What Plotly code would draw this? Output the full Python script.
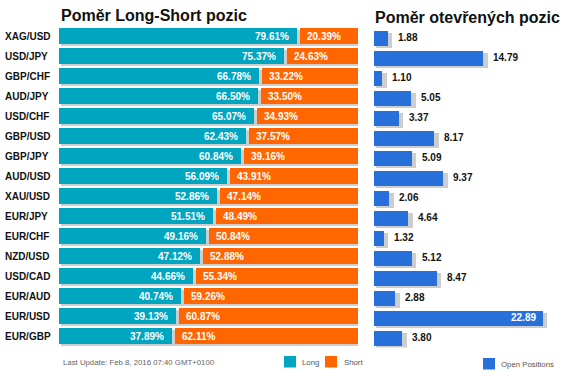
import plotly.graph_objects as go

pairs = ["XAG/USD", "USD/JPY", "GBP/CHF", "AUD/JPY", "USD/CHF", "GBP/USD", "GBP/JPY", "AUD/USD",
         "XAU/USD", "EUR/JPY", "EUR/CHF", "NZD/USD", "USD/CAD", "EUR/AUD", "EUR/USD", "EUR/GBP"]
long_pct = [79.61, 75.37, 66.78, 66.50, 65.07, 62.43, 60.84, 56.09, 52.86, 51.51, 49.16, 47.12,
            44.66, 40.74, 39.13, 37.89]
short_pct = [20.39, 24.63, 33.22, 33.50, 34.93, 37.57, 39.16, 43.91, 47.14, 48.49, 50.84, 52.88,
             55.34, 59.26, 60.87, 62.11]
open_pos = [1.88, 14.79, 1.10, 5.05, 3.37, 8.17, 5.09, 9.37, 2.06, 4.64, 1.32, 5.12, 8.47, 2.88,
            22.89, 3.80]

title_left = "Poměr Long-Short pozic"
title_right = "Poměr otevřených pozic"
footer = "Last Update: Feb 8, 2016 07:40 GMT+0100"

W, H = 563, 377
TEAL = "#00A6BF"
ORANGE = "#FF6600"
BLUE = "#2870D9"
SHADOW = "#CDCDCD"
FONT = "Arial, Liberation Sans, sans-serif"

idx = list(range(len(pairs)))
GAP = 1.0            # white gap between long and short (data units, left axis)
R2 = 24.66           # right axis range

def py(px):
    return (H - px) / H

def px_x(px):
    return px / W

fig = go.Figure()

# left chart shadows
totals = [l + s for l, s in zip(long_pct, short_pct)]
fig.add_trace(go.Bar(y=[i + 0.1 for i in idx], x=totals, base=0.67, width=0.8, orientation="h",
                     marker=dict(color=SHADOW, line=dict(width=0)), xaxis="x", yaxis="y",
                     hoverinfo="skip", showlegend=False))
fig.add_trace(go.Bar(y=idx, x=long_pct, base=0, width=0.8, orientation="h", name="Long",
                     marker=dict(color=TEAL, line=dict(width=0)), xaxis="x", yaxis="y",
                     hoverinfo="skip", showlegend=False))
fig.add_trace(go.Bar(y=idx, x=[s - GAP for s in short_pct], base=[l + GAP for l in long_pct],
                     width=0.8, orientation="h", name="Short",
                     marker=dict(color=ORANGE, line=dict(width=0)), xaxis="x", yaxis="y",
                     hoverinfo="skip", showlegend=False))

# right chart
fig.add_trace(go.Bar(y=[i + 0.1 for i in idx], x=[v + 0.34 for v in open_pos], base=0.27, width=0.75,
                     orientation="h", marker=dict(color=SHADOW, line=dict(width=0)),
                     xaxis="x2", yaxis="y2", hoverinfo="skip", showlegend=False))
fig.add_trace(go.Bar(y=idx, x=open_pos, base=0, width=0.75, orientation="h", name="Open Positions",
                     marker=dict(color=BLUE, line=dict(width=0)), xaxis="x2", yaxis="y2",
                     hoverinfo="skip", showlegend=False))

ann = []
for i, name in enumerate(pairs):
    ann.append(dict(x=px_x(3), xref="paper", y=i, yref="y", text=name, showarrow=False,
                    xanchor="left", yanchor="middle",
                    font=dict(family=FONT, size=10, color="#111111", weight="bold")))
for i, (l, s) in enumerate(zip(long_pct, short_pct)):
    ann.append(dict(x=l, xref="x", y=i, yref="y", text=f"{l:.2f}%", showarrow=False,
                    xanchor="right", yanchor="middle", xshift=-6,
                    font=dict(family=FONT, size=10, color="white", weight="bold")))
    ann.append(dict(x=l + GAP, xref="x", y=i, yref="y", text=f"{s:.2f}%", showarrow=False,
                    xanchor="left", yanchor="middle", xshift=5,
                    font=dict(family=FONT, size=10, color="white", weight="bold")))
for i, v in enumerate(open_pos):
    inside = v > 0.8 * R2
    ann.append(dict(x=v, xref="x2", y=i, yref="y2", text=f"{v:.2f}", showarrow=False,
                    xanchor="right" if inside else "left", yanchor="middle",
                    xshift=-5 if inside else 8,
                    font=dict(family=FONT, size=10, color="white" if inside else "#111111",
                              weight="bold")))

ann.append(dict(x=px_x(59), xref="paper", y=py(15), yref="paper", text=title_left, showarrow=False,
                xanchor="left", yanchor="middle",
                font=dict(family=FONT, size=16, color="#111111", weight="bold")))
ann.append(dict(x=px_x(373), xref="paper", y=py(18), yref="paper", text=title_right, showarrow=False,
                xanchor="left", yanchor="middle",
                font=dict(family=FONT, size=16, color="#111111", weight="bold")))
ann.append(dict(x=px_x(61), xref="paper", y=py(362), yref="paper", text=footer, showarrow=False,
                xanchor="left", yanchor="middle", font=dict(family=FONT, size=7.8, color="#666666")))

legend_items = [("Long", TEAL, 284, 356, 300), ("Short", ORANGE, 325, 356, 341.5),
                ("Open Positions", BLUE, 483, 358, 499)]
shapes = []
for label, col, x0, y0, tx in legend_items:
    shapes.append(dict(type="rect", xref="paper", yref="paper", x0=px_x(x0), x1=px_x(x0 + 12),
                       y0=py(y0), y1=py(y0 + 11.5), fillcolor=col, line=dict(width=0)))
    ann.append(dict(x=px_x(tx), xref="paper", y=py(y0 + 6), yref="paper", text=label,
                    showarrow=False, xanchor="left", yanchor="middle",
                    font=dict(family=FONT, size=7.8, color="#555555")))

fig.update_layout(
    width=W, height=H, margin=dict(l=0, r=0, t=0, b=0),
    paper_bgcolor="white", plot_bgcolor="white", barmode="overlay", bargap=0,
    xaxis=dict(domain=[px_x(59), px_x(358)], range=[0, 100], visible=False, fixedrange=True),
    yaxis=dict(domain=[py(346), py(26)], range=[15.5, -0.5], visible=False, fixedrange=True),
    xaxis2=dict(domain=[px_x(374), px_x(556)], range=[0, R2], visible=False, anchor="y2",
                fixedrange=True),
    yaxis2=dict(domain=[py(347.5), py(27.5)], range=[15.5, -0.5], visible=False, anchor="x2",
                fixedrange=True),
    annotations=ann, shapes=shapes, showlegend=False,
)

fig.write_html("out.html", config={"displayModeBar": False},
               post_script="document.body.style.margin='0';document.body.style.overflow='hidden';")
